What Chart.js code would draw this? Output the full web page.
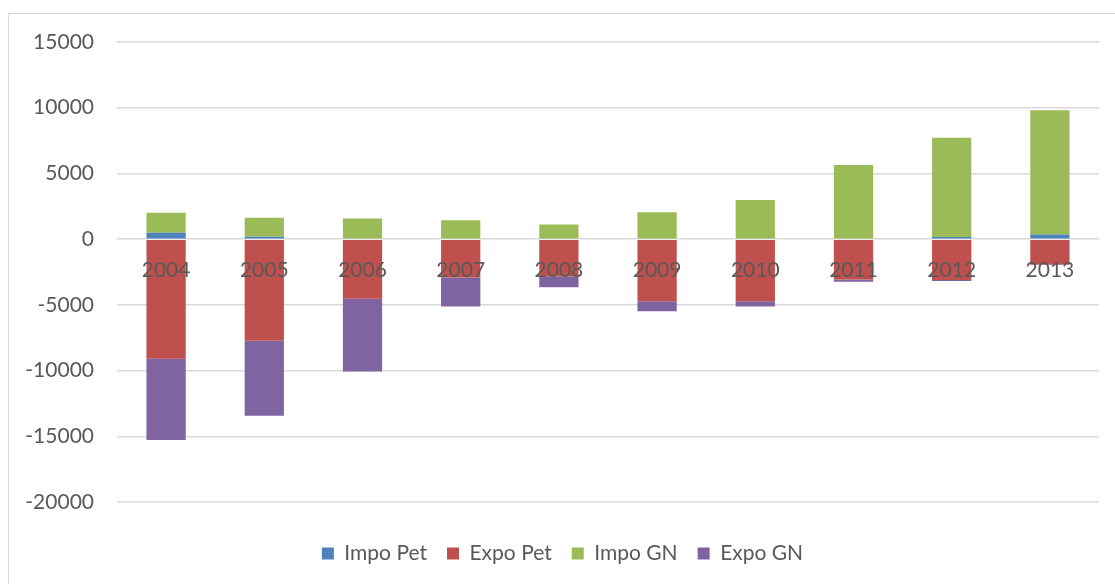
<!DOCTYPE html>
<html>
<head>
<meta charset="utf-8">
<script src="https://cdn.jsdelivr.net/npm/chart.js@4.4.1/dist/chart.umd.min.js"></script>
<style>
  html, body { margin: 0; padding: 0; background: #fff; overflow: hidden; }
  #frame {
    position: absolute; left: 8px; top: 13px;
    width: 1109px; height: 570px;
    border: 1px solid #d9d9d9; background: #fff;
  }
  #chart { display: block; }
</style>
</head>
<body>
<div id="frame"><canvas id="chart" width="1109" height="570"></canvas></div>
<script>
// Years on the category axis
const years = ['2004', '2005', '2006', '2007', '2008', '2009', '2010', '2011', '2012', '2013'];

// Series values (imports positive, exports negative)
const impoPet = [480, 175, 0, 0, 0, 0, 0, 0, 170, 350];
const expoPet = [-9100, -7730, -4530, -2920, -2850, -4730, -4720, -3070, -3100, -1930];
const impoGN  = [1530, 1450, 1580, 1430, 1120, 2040, 2980, 5650, 7550, 9450];
const expoGN  = [-6180, -5700, -5550, -2210, -815, -760, -400, -180, -80, -30];

// Value axis range and step
const yMin = -20000;
const yMax = 15000;
const yStep = 5000;

const textColor = '#595959';
const fontFamily = 'Lato, "Liberation Sans", sans-serif';

// Category labels sit just under the zero line, on top of the bars
const zeroLineLabels = {
  id: 'zeroLineLabels',
  afterDatasetsDraw(chart) {
    const { ctx, scales } = chart;
    const xs = scales.x, ys = scales.y;
    const y0 = ys.getPixelForValue(0);
    ctx.save();
    ctx.font = '21px ' + fontFamily;
    ctx.fillStyle = textColor;
    ctx.textAlign = 'center';
    ctx.textBaseline = 'middle';
    years.forEach((label, i) => {
      ctx.fillText(label, xs.getPixelForValue(i), y0 + 31);
    });
    ctx.restore();
  }
};

new Chart(document.getElementById('chart'), {
  type: 'bar',
  data: {
    labels: years,
    datasets: [
      { label: 'Impo Pet', data: impoPet, backgroundColor: '#4F81BD' },
      { label: 'Expo Pet', data: expoPet, backgroundColor: '#C0504D' },
      { label: 'Impo GN',  data: impoGN,  backgroundColor: '#9BBB59' },
      { label: 'Expo GN',  data: expoGN,  backgroundColor: '#8064A2' }
    ]
  },
  options: {
    responsive: false,
    animation: false,
    layout: { padding: { left: 17, right: 19, top: 28, bottom: 10 } },
    datasets: {
      bar: { categoryPercentage: 1.0, barPercentage: 0.4, borderWidth: 0 }
    },
    scales: {
      x: {
        stacked: true,
        grid: { display: false },
        border: { display: false },
        ticks: { display: false },
        afterFit(scale) { scale.height = 21; }
      },
      y: {
        stacked: true,
        min: yMin,
        max: yMax,
        border: { display: false },
        grid: {
          color: '#d9d9d9',
          lineWidth: 1.5,
          drawTicks: true,
          tickLength: 23,
          tickColor: 'rgba(0,0,0,0)'
        },
        ticks: {
          stepSize: yStep,
          padding: 0,
          color: textColor,
          font: { family: fontFamily, size: 21 },
          callback: (value) => String(value)
        },
        afterFit(scale) { scale.width = 91; }
      }
    },
    plugins: {
      legend: {
        position: 'bottom',
        labels: {
          boxWidth: 12,
          boxHeight: 12,
          padding: 20,
          color: textColor,
          font: { family: fontFamily, size: 21 }
        }
      },
      tooltip: { enabled: false }
    }
  },
  plugins: [zeroLineLabels]
});
</script>
</body>
</html>
